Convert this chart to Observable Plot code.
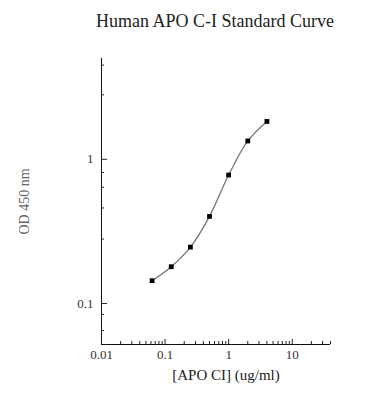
<!DOCTYPE html>
<html>
<head>
<meta charset="utf-8">
<script src="https://cdn.jsdelivr.net/npm/d3@7"></script>
<script src="https://cdn.jsdelivr.net/npm/@observablehq/plot@0.6"></script>
<style>
  html, body { margin: 0; padding: 0; background: #fff; }
  #wrap { position: relative; width: 370px; height: 400px; }
  #title { position: absolute; top: 11px; left: 215px; transform: translateX(-50%); white-space: nowrap;
    font-family: "Liberation Serif", "Times New Roman", serif; font-size: 18px; line-height: 20px; color: #222; }
  #chart { position: absolute; top: 40px; left: 0; }
</style>
</head>
<body>
<div id="wrap">
  <div id="title">Human APO C-I Standard Curve</div>
  <div id="chart"></div>
</div>
<script>
// Data
const conc = [0.0625, 0.125, 0.25, 0.5, 1, 2, 4];           // [APO CI] (ug/ml)
const od = [0.144, 0.180, 0.246, 0.402, 0.778, 1.34, 1.83];  // OD 450 nm

// Axis ticks
const xMajor = [0.01, 0.1, 1, 10];
const xMajorLabels = ["0.01", "0.1", "1", "10"];
const xMinor = [0.02,0.03,0.04,0.05,0.06,0.07,0.08,0.09,0.2,0.3,0.4,0.5,0.6,0.7,0.8,0.9,2,3,4,5,6,7,8,9,20,30,40];
const yMajor = [0.1, 1];
const yMajorLabels = ["0.1", "1"];
const yMinor = [0.065, 0.084, 0.28, 0.46, 0.64, 0.81, 2.8, 4.5];

const xDomain = [0.01, 40];
const yDomain = [0.052, 5];

const data = conc.map((c, i) => ({conc: c, od: od[i]}));

const serif = "Liberation Serif, Times New Roman, serif";

const chart = Plot.plot({
  width: 370,
  height: 360,
  marginTop: 18,
  marginBottom: 56,
  marginLeft: 101,
  marginRight: 40,
  style: {fontFamily: serif, fontSize: "13px", color: "#333", background: "#fff"},
  x: {type: "log", domain: xDomain, axis: null},
  y: {type: "log", domain: yDomain, axis: null},
  marks: [
    // axis lines
    Plot.ruleY([yDomain[0]], {stroke: "#111", strokeWidth: 1}),
    Plot.ruleX([xDomain[0]], {stroke: "#111", strokeWidth: 1}),
    // x ticks (inward)
    Plot.axisX(xMinor, {tickSize: -3, text: null, label: null, stroke: "#222"}),
    Plot.axisX(xMajor, {tickSize: -5, text: null, label: null, stroke: "#222"}),
    Plot.axisX(xMajor, {tickSize: 0, tickPadding: 5, label: null, fill: "#333",
      tickFormat: d => xMajorLabels[xMajor.indexOf(d)]}),
    // y ticks (inward)
    Plot.axisY(yMinor, {tickSize: -3, text: null, label: null, stroke: "#222"}),
    Plot.axisY(yMajor, {tickSize: -6, text: null, label: null, stroke: "#222"}),
    Plot.axisY(yMajor, {tickSize: 0, tickPadding: 8, label: null, fill: "#333",
      tickFormat: d => yMajorLabels[yMajor.indexOf(d)]}),
    // axis titles
    Plot.text(["[APO CI] (ug/ml)"], {frameAnchor: "bottom", dx: 10, dy: 35, fontSize: 15, fill: "#222"}),
    Plot.text(["OD 450 nm"], {frameAnchor: "left", textAnchor: "middle", dx: -77, rotate: -90, fontSize: 14, fill: "#666"}),
    // curve and points
    Plot.line(data, {x: "conc", y: "od", curve: "catmull-rom", stroke: "#777", strokeWidth: 1.3}),
    Plot.dot(data, {x: "conc", y: "od", symbol: "square", r: 2.7, fill: "#000", stroke: "none"})
  ]
});

document.getElementById("chart").appendChild(chart);
</script>
</body>
</html>
